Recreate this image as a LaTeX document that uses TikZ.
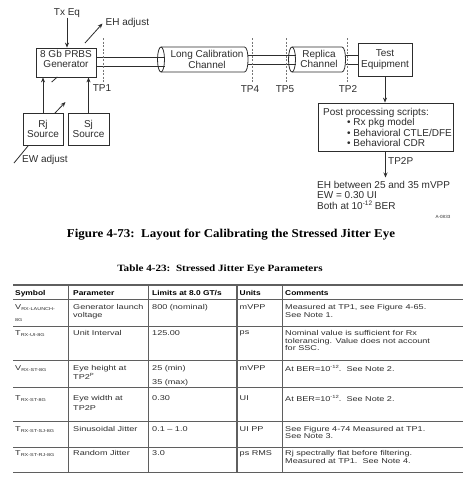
\documentclass[tikz,border=0pt]{standalone}
\usepackage{fontspec}
\usepackage{graphicx}
\setmainfont{Liberation Sans}
\newfontfamily\tabfont[FakeStretch=1.3]{Liberation Sans}
\newfontfamily\capserif{Liberation Serif}
\usetikzlibrary{arrows.meta}
\newcommand\mysub[1]{\raisebox{-1.3pt}{\fontsize{4.2}{4.5}\selectfont #1}}
\newcommand\mysup[1]{\raisebox{3pt}{\fontsize{4.5}{4.5}\selectfont #1}}
\newcommand\hdtext[1]{\scalebox{1.2}[1]{\rmfamily\bfseries\fontsize{7}{7.5}\selectfont #1}}
\definecolor{inkc}{RGB}{45,45,45}
\definecolor{rulec}{RGB}{95,95,95}
\begin{document}
\begin{tikzpicture}[x=1pt,y=-1pt,
  box/.style={draw=inkc, line width=0.8pt, inner sep=0pt, align=center, text=inkc, font=\fontsize{10}{10.5}\selectfont},
  lbl/.style={inner sep=0pt, text=inkc, font=\fontsize{10}{10.5}\selectfont},
  ink/.style={draw=inkc, line width=0.8pt},
  arr/.style={draw=inkc, line width=0.8pt, -{Stealth[length=5pt,width=4pt]}},
  tpline/.style={draw=inkc!65, line width=0.7pt, dash pattern=on 2pt off 1.5pt},
  cell/.style={anchor=north west, inner sep=0pt, align=left, text=inkc, font=\tabfont\fontsize{7}{7.5}\selectfont},
  hcell/.style={anchor=north west, inner sep=0pt, text=black},
  hrule/.style={draw=rulec, line width=0.8pt},
  vrule/.style={draw=rulec, line width=0.8pt}]
\useasboundingbox (0,0) rectangle (467,480);
\fill[white] (0,0) rectangle (467,480);

% ---------------- diagram ----------------
\node[box, minimum width=60pt, minimum height=29pt] (gen) at (66,62.5) {};
\node[lbl, align=center] (gentxt) at (66,59) {8 Gb PRBS\\Generator};
\node[box, minimum width=40pt, minimum height=32pt] (rj) at (43,129) {Rj\\Source};
\node[box, minimum width=41pt, minimum height=32pt] (sj) at (88.5,129) {Sj\\Source};
\node[box, minimum width=54pt, minimum height=33pt] (te) at (385,59.5) {Test\\Equipment};
\node[box, minimum width=135pt, minimum height=48pt] (post) at (385.5,127) {};

\node[lbl] (txeq) at (67,13) {Tx Eq};
\node[lbl, anchor=west] (eh) at (105.5,23) {EH adjust};
\node[lbl, anchor=west] (ew) at (22,160) {EW adjust};

\draw[arr] (txeq.south) -- (txeq.south |- gen.north);
\coordinate (ehs) at (85,43);
\coordinate (eht) at (102.5,23.5);
\draw[arr] (ehs) -- (eht);
\draw[arr] (rj.north) -- (rj.north |- gen.south);
\draw[arr] (sj.north) -- (sj.north |- gen.south);
\coordinate (ticka) at (51.7,82);
\coordinate (tickb) at (57.3,77);
\draw[ink] (ticka) -- (tickb);
\coordinate (rja) at (55,113);
\coordinate (rjb) at (65.5,102);
\draw[arr] (rja) -- (rjb);
\coordinate (ewa) at (28,146);
\coordinate (ewb) at (14,163);
\draw[ink] (ewa) -- (ewb);

% long calibration channel cylinder
\coordinate (lcl) at (161,59.5);
\coordinate (lcr) at (244.5,59.5);
\draw[ink] (161,47) -- (244.5,47) .. controls (249.2,47) and (249.2,72) .. (244.5,72) -- (161,72);
\draw[ink] (lcl) ellipse [x radius=3.5pt, y radius=12.5pt];
\node[lbl, align=center] (lcc) at (207,59.5) {Long Calibration\\Channel};
% replica channel cylinder
\coordinate (rcl) at (292,59.5);
\coordinate (rcr) at (342,59.5);
\draw[ink] (292,47) -- (342,47) .. controls (346.7,47) and (346.7,72) .. (342,72) -- (292,72);
\draw[ink] (rcl) ellipse [x radius=3.5pt, y radius=12.5pt];
\node[lbl, align=center] (rcc) at (319,59) {Replica\\Channel};

% signal pairs
\draw[ink] (gen.east |- 0,57.5) -- (164.5,57.5);
\draw[ink] (gen.east |- 0,66.3) -- (164.5,66.3);
\draw[ink] (248,55.8) -- (295.5,55.8);
\draw[ink] (248,64.6) -- (295.5,64.6);
\draw[ink] (345.5,55) -- (te.west |- 0,55);
\draw[ink] (345.5,64) -- (te.west |- 0,64);

% test points
\draw[tpline] (103,38) -- (103,82);
\draw[tpline] (252,38) -- (252,82);
\draw[tpline] (286,38) -- (286,82);
\draw[tpline] (347.5,38) -- (347.5,82);
\node[lbl] (tp1) at (102,88.5) {TP1};
\node[lbl] (tp4) at (250,89) {TP4};
\node[lbl] (tp5) at (285,89) {TP5};
\node[lbl] (tp2) at (348,89) {TP2};

% post processing
\draw[arr] (te.south) -- (te.south |- post.north);
\node[lbl, anchor=west] (pp) at (323,112.5) {Post processing scripts:};
\node[lbl, anchor=west] (b1) at (347,123) {\textbullet\ Rx pkg model};
\node[lbl, anchor=west] (b2) at (347,133) {\textbullet\ Behavioral CTLE/DFE};
\node[lbl, anchor=west] (b3) at (347,143) {\textbullet\ Behavioral CDR};
\coordinate (res) at (385.5,177.5);
\draw[arr] (post.south) -- (res);
\node[lbl, anchor=west] (tp2p) at (388,161) {TP2P};
\node[lbl, anchor=west] (r1) at (317,185) {EH between 25 and 35 mVPP};
\node[lbl, anchor=west] (r2) at (317,195) {EW = 0.30 UI};
\node[lbl, anchor=west] (r3) at (317,205.5) {Both at 10\raisebox{3.5pt}{\fontsize{6.5}{7}\selectfont -12} BER};
\node[inner sep=0pt, text=inkc, font=\fontsize{4.5}{5}\selectfont] (code) at (443,217) {A-0833};

% captions
\node[inner sep=0pt, text=black] (figcap) at (231,234.5) {\scalebox{1.08}[1]{\capserif\bfseries\fontsize{12}{13}\selectfont Figure 4-73:\ \ Layout for Calibrating the Stressed Jitter Eye}};
\node[inner sep=0pt, text=black] (tabcap) at (220,269.5) {\scalebox{1.16}[1]{\capserif\bfseries\fontsize{9.6}{10}\selectfont Table 4-23:\ \ Stressed Jitter Eye Parameters}};

% ---------------- table ----------------
\draw[draw=rulec, line width=1.3pt] (13,285) -- (463,285);
\foreach \yy in {299,326,360,387,421,447,472} {\draw[hrule] (13,\yy) -- (463,\yy);}
\foreach \xx in {68,148,282} {\draw[vrule] (\xx,285) -- (\xx,472);}
\draw[draw=rulec, line width=1.3pt] (237,285) -- (237,472);

% header
\node[hcell] (h1) at (15,290.4) {\hdtext{Symbol}};
\node[hcell] (h2) at (73,290.4) {\hdtext{Parameter}};
\node[hcell] (h3) at (152,290.4) {\hdtext{Limits at 8.0 GT/s}};
\node[hcell] (h4) at (239.5,290.4) {\hdtext{Units}};
\node[hcell] (h5) at (285,290.4) {\hdtext{Comments}};

% row 1
\node[cell] (s1) at (15,304.4) {V\mysub{RX-LAUNCH-}};
\node[cell, font=\tabfont\fontsize{4.2}{4.5}\selectfont] (s1b) at (15,318.5) {8G};
\node[cell] (p1) at (73,304.4) {Generator launch\\voltage};
\node[cell] (l1) at (152,304.4) {800 (nominal)};
\node[cell] (u1) at (239.5,304.4) {mVPP};
\node[cell] (c1) at (285,304.4) {Measured at TP1, see Figure 4-65.\\See Note 1.};
% row 2
\node[cell] (s2) at (15,330.4) {T\mysub{RX-UI-8G}};
\node[cell] (p2) at (73,330.4) {Unit Interval};
\node[cell] (l2) at (152,330.4) {125.00};
\node[cell] (u2) at (239.5,330.4) {ps};
\node[cell] (c2) at (285,330.4) {Nominal value is sufficient for Rx\\tolerancing. Value does not account\\for SSC.};
% row 3
\node[cell] (s3) at (15,365.4) {V\mysub{RX-ST-8G}};
\node[cell] (p3) at (73,365.4) {Eye height at\\TP2\mysup{P}};
\node[cell] (l3) at (152,365.4) {25 (min)};
\node[cell] (l3b) at (152,379.4) {35 (max)};
\node[cell] (u3) at (239.5,365.4) {mVPP};
\node[cell] (c3) at (285,365.4) {At BER=10\mysup{-12}.\ \ See Note 2.};
% row 4
\node[cell] (s4) at (15,395.4) {T\mysub{RX-ST-8G}};
\node[cell, font=\tabfont\fontsize{7}{9.5}\selectfont] (p4) at (73,395.4) {Eye width at\\TP2P};
\node[cell] (l4) at (152,395.4) {0.30};
\node[cell] (u4) at (239.5,395.4) {UI};
\node[cell] (c4) at (285,395.4) {At BER=10\mysup{-12}.\ \ See Note 2.};
% row 5
\node[cell] (s5) at (15,426.4) {T\mysub{RX-ST-SJ-8G}};
\node[cell] (p5) at (73,426.4) {Sinusoidal Jitter};
\node[cell] (l5) at (152,426.4) {0.1 – 1.0};
\node[cell] (u5) at (239.5,426.4) {UI PP};
\node[cell, font=\tabfont\fontsize{7}{6.8}\selectfont] (c5) at (285,426.4) {See Figure 4-74 Measured at TP1.\\See Note 3.};
% row 6
\node[cell] (s6) at (15,450.6) {T\mysub{RX-ST-RJ-8G}};
\node[cell] (p6) at (73,450.6) {Random Jitter};
\node[cell] (l6) at (152,450.6) {3.0};
\node[cell] (u6) at (239.5,450.6) {ps RMS};
\node[cell] (c6) at (285,450.6) {Rj spectrally flat before filtering.\\Measured at TP1.\ \ See Note 4.};
\end{tikzpicture}
\end{document}
